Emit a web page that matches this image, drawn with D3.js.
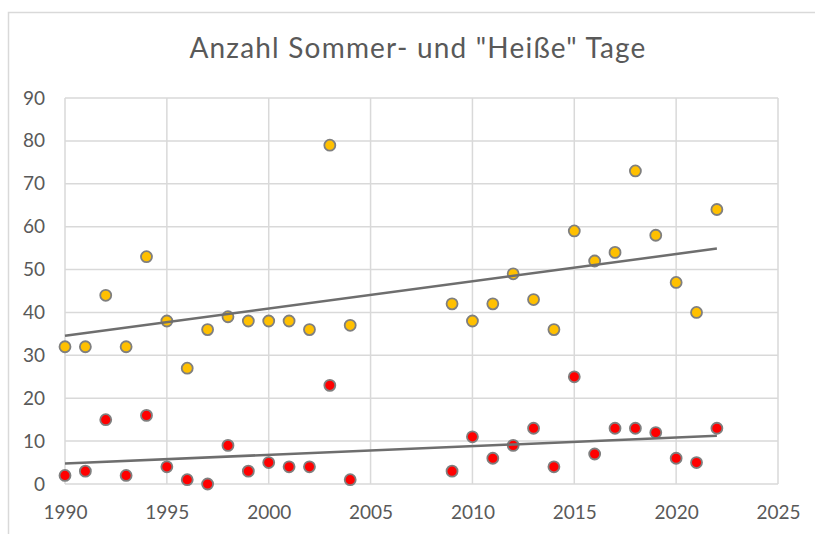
<!DOCTYPE html>
<html>
<head>
<meta charset="utf-8">
<script src="https://cdn.jsdelivr.net/npm/d3@7"></script>
<style>
  html, body { margin: 0; padding: 0; background: #fff; }
</style>
</head>
<body>
<div id="chart"></div>
<script>
/* global d3 */

// Jahre (2005-2008 fehlen in den Daten)
var years = [1990, 1991, 1992, 1993, 1994, 1995, 1996, 1997, 1998, 1999,
  2000, 2001, 2002, 2003, 2004, 2009, 2010, 2011, 2012, 2013,
  2014, 2015, 2016, 2017, 2018, 2019, 2020, 2021, 2022];

// Sommertage
var sommerTage = [32, 32, 44, 32, 53, 38, 27, 36, 39, 38,
  38, 38, 36, 79, 37, 42, 38, 42, 49, 43,
  36, 59, 52, 54, 73, 58, 47, 40, 64];

// Heiße Tage
var heisseTage = [2, 3, 15, 2, 16, 4, 1, 0, 9, 3,
  5, 4, 4, 23, 1, 3, 11, 6, 9, 13,
  4, 25, 7, 13, 13, 12, 6, 5, 13];

// Achsenbeschriftungen
var xTicks = [1990, 1995, 2000, 2005, 2010, 2015, 2020, 2025];
var yTicks = [0, 10, 20, 30, 40, 50, 60, 70, 80, 90];

var title = 'Anzahl Sommer- und "Heiße" Tage';

(function() {
  var width = 815;
  var height = 534;

  // Zeichenbereich
  var plot = {left: 65, right: 778, top: 98, bottom: 484};

  var gridColor = '#d9d9d9';
  var textColor = '#595959';
  var fontFamily = 'Lato, "Open Sans", sans-serif';

  var series = [
    {name: 'Sommertage', values: sommerTage, fill: '#ffc000'},
    {name: 'Heiße Tage', values: heisseTage, fill: '#ff0000'}
  ];

  var x = d3.scaleLinear().domain([1990, 2025]).range([plot.left, plot.right]);
  var y = d3.scaleLinear().domain([0, 90]).range([plot.bottom, plot.top]);

  var svg = d3.select('#chart').append('svg')
    .attr('width', width).attr('height', height)
    .style('display', 'block');

  svg.append('rect')
    .attr('width', width).attr('height', height)
    .attr('fill', '#fff');

  // Rahmen des Diagramms (rechts und unten abgeschnitten)
  svg.append('rect')
    .attr('x', 8.5).attr('y', 12.5)
    .attr('width', 900).attr('height', 700)
    .attr('fill', 'none')
    .attr('stroke', gridColor)
    .attr('stroke-width', 1.5);

  // Titel
  svg.append('text')
    .attr('x', 418)
    .attr('y', 58)
    .attr('text-anchor', 'middle')
    .attr('fill', textColor)
    .attr('font-family', fontFamily)
    .attr('font-size', 28)
    .attr('letter-spacing', 1.2)
    .text(title);

  // Gitterlinien
  var gridG = svg.append('g');
  gridG.selectAll('.gx').data(xTicks).enter()
    .append('line')
    .attr('class', 'gx')
    .attr('x1', function(d) { return x(d); })
    .attr('x2', function(d) { return x(d); })
    .attr('y1', y(0)).attr('y2', y(90))
    .attr('stroke', gridColor)
    .attr('stroke-width', 1.5);
  gridG.selectAll('.gy').data(yTicks).enter()
    .append('line')
    .attr('class', 'gy')
    .attr('y1', function(d) { return y(d); })
    .attr('y2', function(d) { return y(d); })
    .attr('x1', x(1990)).attr('x2', x(2025))
    .attr('stroke', gridColor)
    .attr('stroke-width', 1.5);

  // Achsen
  var xAxis = svg.append('g')
    .attr('transform', 'translate(0,' + (plot.bottom + 28) + ')')
    .call(d3.axisBottom(x).tickValues(xTicks).tickFormat(d3.format('d')).tickSize(0));
  var yAxis = svg.append('g')
    .attr('transform', 'translate(' + (plot.left - 20) + ',0)')
    .call(d3.axisLeft(y).tickValues(yTicks).tickSize(0).tickPadding(0));

  [xAxis, yAxis].forEach(function(a) {
    a.select('.domain').remove();
    a.selectAll('text')
      .attr('fill', textColor)
      .attr('font-family', fontFamily)
      .attr('font-size', 19);
  });
  xAxis.selectAll('text').attr('dy', '0.35em').attr('y', 0);

  // lineare Trendlinien (kleinste Quadrate)
  function trend(vals) {
    var mx = d3.mean(years);
    var my = d3.mean(vals);
    var sxy = d3.sum(years, function(t, i) { return (t - mx) * (vals[i] - my); });
    var sxx = d3.sum(years, function(t) { return (t - mx) * (t - mx); });
    var b = sxy / sxx;
    var a = my - b * mx;
    var ext = d3.extent(years);
    return [[ext[0], a + b * ext[0]], [ext[1], a + b * ext[1]]];
  }

  var line = d3.line()
    .x(function(d) { return x(d[0]); })
    .y(function(d) { return y(d[1]); });

  var dotG = svg.append('g');

  series.forEach(function(s) {
    dotG.selectAll(null).data(s.values).enter()
      .append('circle')
      .attr('cx', function(d, i) { return x(years[i]); })
      .attr('cy', function(d) { return y(d); })
      .attr('r', 5.5)
      .attr('fill', s.fill)
      .attr('stroke', '#7f7f7f')
      .attr('stroke-width', 1.8);
  });

  // Trendlinien über den Punkten
  series.forEach(function(s) {
    svg.append('path')
      .datum(trend(s.values))
      .attr('d', line)
      .attr('fill', 'none')
      .attr('stroke', '#6e6e6e')
      .attr('stroke-width', 2.5);
  });
})();
</script>
</body>
</html>
